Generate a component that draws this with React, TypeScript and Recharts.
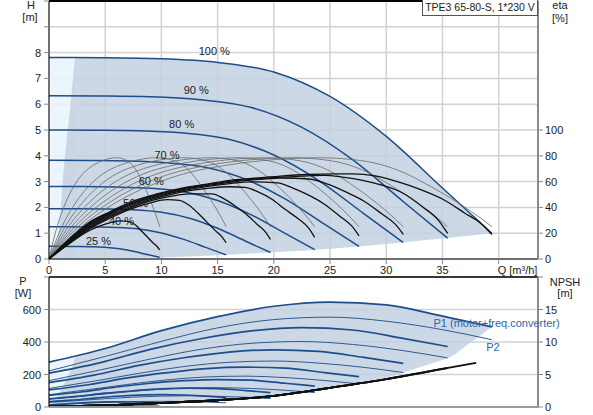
import React from 'react';
import { ComposedChart, Line, Area, Scatter, XAxis, YAxis, CartesianGrid, ReferenceLine } from 'recharts';

const FONT = '"Liberation Sans", Arial, sans-serif';
const BLUE = '#1d4d8a';
const SHADE = '#c3d1e0';
const LIGHT = '#e9f3fc';
const GRID = '#d2d2d2';
const TXT = '#222';

// speeds, top to bottom
const speedNames = ['100 %', '90 %', '80 %', '70 %', '60 %', '50 %', '40 %', '25 %'];

// Q [m3/h] points of the pump curves, one list per speed
const qPump100 = [0, 5, 10, 15, 20, 25, 30, 35, 39.4];
const qPump90 = [0, 4.5, 9, 13.5, 18, 22.5, 27, 31.5, 35.46];
const qPump80 = [0, 4, 8, 12, 16, 20, 24, 28, 31.52];
const qPump70 = [0, 3.5, 7, 10.5, 14, 17.5, 21, 24.5, 27.58];
const qPump60 = [0, 3, 6, 9, 12, 15, 18, 21, 23.64];
const qPump50 = [0, 2.5, 5, 7.5, 10, 12.5, 15, 17.5, 19.7];
const qPump40 = [0, 2, 4, 6, 8, 10, 12, 14, 15.76];
const qPump25 = [0, 1.25, 2.5, 3.75, 5, 6.25, 7.5, 8.75, 9.85];

// H [m]
const hPump100 = [7.81, 7.8, 7.76, 7.62, 7.25, 6.3, 4.75, 2.75, 1.0];
const hPump90 = [6.33, 6.32, 6.29, 6.17, 5.87, 5.1, 3.85, 2.23, 0.81];
const hPump80 = [5.0, 4.99, 4.97, 4.88, 4.64, 4.03, 3.04, 1.76, 0.64];
const hPump70 = [3.83, 3.82, 3.8, 3.73, 3.55, 3.09, 2.33, 1.35, 0.49];
const hPump60 = [2.81, 2.81, 2.79, 2.74, 2.61, 2.27, 1.71, 0.99, 0.36];
const hPump50 = [1.95, 1.95, 1.94, 1.91, 1.81, 1.58, 1.19, 0.69, 0.25];
const hPump40 = [1.25, 1.25, 1.24, 1.22, 1.16, 1.01, 0.76, 0.44, 0.16];
const hPump25 = [0.49, 0.49, 0.485, 0.476, 0.453, 0.394, 0.297, 0.172, 0.063];

// pump efficiency (thin grey), same % values at every speed
const qEtaPump100 = [0, 3, 6, 9, 12, 16, 20, 24, 28, 31, 34, 36.5, 38.5, 39.4];
const qEtaPump90 = [0, 2.7, 5.4, 8.1, 10.8, 14.4, 18, 21.6, 25.2, 27.9, 30.6, 32.85, 34.65, 35.46];
const qEtaPump80 = [0, 2.4, 4.8, 7.2, 9.6, 12.8, 16, 19.2, 22.4, 24.8, 27.2, 29.2, 30.8, 31.52];
const qEtaPump70 = [0, 2.1, 4.2, 6.3, 8.4, 11.2, 14, 16.8, 19.6, 21.7, 23.8, 25.55, 26.95, 27.58];
const qEtaPump60 = [0, 1.8, 3.6, 5.4, 7.2, 9.6, 12, 14.4, 16.8, 18.6, 20.4, 21.9, 23.1, 23.64];
const qEtaPump50 = [0, 1.5, 3, 4.5, 6, 8, 10, 12, 14, 15.5, 17, 18.25, 19.25, 19.7];
const qEtaPump40 = [0, 1.2, 2.4, 3.6, 4.8, 6.4, 8, 9.6, 11.2, 12.4, 13.6, 14.6, 15.4, 15.76];
const qEtaPump25 = [0, 0.75, 1.5, 2.25, 3, 4, 5, 6, 7, 7.75, 8.5, 9.13, 9.63, 9.85];
const etaPump = [0, 26, 44, 57, 66, 73, 77, 78.5, 76, 69, 56, 43, 31, 25];

// total efficiency (thick black)
const qEtaTot100 = [0, 1.5, 3.65, 5.5, 7.2, 9, 10.8, 12.5, 14.3, 16.1, 18, 20.6, 23, 25.5, 27, 29, 31, 33, 35, 37, 38.5, 39.4];
const etaTot100 = [0, 13, 28.8, 37, 44, 49, 53, 56, 58.5, 61, 62.5, 64.3, 65.5, 66, 66, 64.5, 60, 54, 46.5, 35.5, 27, 19];
const qEtaTot90 = [0, 1.5, 3.65, 5.5, 7.2, 9, 10.8, 12.5, 14.3, 16.1, 18, 20.6, 23, 24.5, 26.1, 27.9, 29.7, 31.5, 33.3, 34.65, 35.46];
const etaTot90 = [0, 12.8, 28, 36.4, 43.2, 48.4, 52.4, 55.4, 58, 60.2, 61.8, 63.4, 64.5, 64.8, 63.5, 61, 57, 51, 40, 30, 19.8];
const qEtaTot80 = [0, 1.5, 3.65, 5.5, 7.2, 9, 10.8, 12.5, 14.3, 16.1, 18, 20.6, 23.2, 24.8, 26.4, 28, 29.6, 30.8, 31.52];
const etaTot80 = [0, 12.5, 27.1, 35.8, 42.5, 47.7, 51.7, 54.8, 57.3, 59.5, 61.3, 62.8, 62, 58, 52, 45, 35, 27, 19];
const qEtaTot70 = [0, 1.5, 3.65, 5.5, 7.2, 9, 10.8, 12.5, 14.3, 16.1, 18, 20.3, 21.7, 23.1, 24.5, 25.9, 26.95, 27.58];
const etaTot70 = [0, 12, 26.3, 35, 41.5, 47, 51, 54, 56.5, 58.5, 59.8, 59, 55, 49.5, 42.5, 33, 25.5, 18];
const qEtaTot60 = [0, 1.5, 3.65, 5.5, 7.2, 9, 10.8, 12.5, 14.3, 16.1, 17.4, 18.6, 19.8, 21, 22.2, 23.1, 23.64];
const etaTot60 = [0, 11.5, 25.4, 34, 40.5, 46, 50, 53, 55, 56, 55.5, 52, 46.5, 38.5, 31, 24, 16.7];
const qEtaTot50 = [0, 1.5, 3.65, 5.5, 7.2, 9, 10.8, 12.5, 14.5, 15.5, 16.5, 17.5, 18.5, 19.25, 19.7];
const etaTot50 = [0, 11, 24.5, 33, 39.5, 45, 48.5, 50.5, 50.5, 47, 41.5, 35, 27, 21, 15.2];
const qEtaTot40 = [0, 1.5, 3.65, 5.5, 7.2, 9, 10.5, 11.6, 12.4, 13.2, 14, 14.8, 15.4, 15.76];
const etaTot40 = [0, 10.5, 23.7, 32, 38.5, 43.5, 46, 45.5, 42, 36, 29, 22, 17, 12.6];
const qEtaTot25 = [0, 1.5, 3.65, 5, 6.3, 7.25, 7.75, 8.25, 8.75, 9.25, 9.63, 9.85];
const etaTot25 = [0, 10, 22.4, 27, 29.5, 28.5, 26, 21.5, 17, 12.5, 9.5, 7];

// operating area (top)
const qHShade = [0, 0.4, 0.83, 1.42, 1.93, 2.4, 5, 10, 15, 20, 25, 30, 35, 39.4];
const hShadeHigh = [0, 0.3, 1, 4, 6, 7.81, 7.8, 7.76, 7.62, 7.25, 6.3, 4.75, 2.75, 1.0];
const hShadeLow = [0, 0, 0, 0, 0, 0, 0.02, 0.06, 0.15, 0.26, 0.4, 0.58, 0.79, 1.0];
const qHLight = [0, 2.4];
const hLight = [7.81, 7.81];

// power P1 (motor + freq. converter) and P2 [W], on the pump Q points
const p1_100 = [276, 360, 470, 556, 620, 646, 628, 559, 493];
const p1_90 = [208, 272, 355, 420, 468, 488, 474, 422, 372];
const p1_80 = [150, 196, 256, 303, 338, 352, 342, 305, 269];
const p1_70 = [105, 137, 179, 211, 236, 245, 239, 212, 187];
const p1_60 = [72, 94, 123, 146, 162, 169, 165, 146, 129];
const p1_50 = [50, 65, 85, 100, 112, 116, 113, 101, 89];
const p1_40 = [33, 42, 55, 66, 73, 76, 74, 66, 58];
const p1_25 = [14, 18, 23.5, 28, 31, 32, 31, 28, 25];

const p2_100 = [222, 311, 404, 487, 538, 553, 528, 476, 414];
const p2_90 = [162, 227, 295, 355, 392, 403, 385, 347, 302];
const p2_80 = [114, 159, 207, 249, 275, 283, 270, 244, 212];
const p2_70 = [76, 107, 139, 167, 185, 190, 181, 163, 142];
const p2_60 = [48, 67, 87, 105, 116, 119, 114, 103, 89];
const p2_50 = [28, 39, 51, 61, 67, 69, 66, 60, 52];
const p2_40 = [14, 20, 26, 31, 34, 35, 34, 30, 26];
const p2_25 = [3.5, 4.9, 6.3, 7.6, 8.4, 8.6, 8.2, 7.4, 6.5];

// NPSH [m]
const qNpsh100 = [0, 5, 10, 15, 20, 22.5, 25, 30, 35, 38];
const npsh100 = [0.05, 0.26, 0.62, 1.04, 1.7, 2.3, 2.95, 4.3, 5.85, 6.8];
const qNpsh90 = [0, 5, 10, 15, 20, 22.5, 25, 30, 35.46];
const npsh90 = [0.05, 0.26, 0.62, 1.04, 1.7, 2.3, 2.95, 4.3, 6.0];
const qNpsh80 = [0, 5, 10, 15, 20, 22.5, 25, 30, 31.52];
const npsh80 = [0.05, 0.26, 0.62, 1.04, 1.7, 2.3, 2.95, 4.3, 4.75];
const qNpsh70 = [0, 5, 10, 15, 20, 22.5, 25, 27.58];
const npsh70 = [0.05, 0.26, 0.62, 1.04, 1.7, 2.3, 2.95, 3.65];
const qNpsh60 = [0, 5, 10, 15, 20, 22.5, 23.64];
const npsh60 = [0.05, 0.26, 0.62, 1.04, 1.7, 2.3, 2.6];
const qNpsh50 = [0, 5, 10, 15, 19.7];
const npsh50 = [0.05, 0.26, 0.62, 1.04, 1.66];
const qNpsh40 = [0, 5, 10, 15, 15.76];
const npsh40 = [0.05, 0.26, 0.62, 1.04, 1.12];
const qNpsh25 = [0, 5, 9.85];
const npsh25 = [0.05, 0.26, 0.61];

// operating area (bottom)
const qPShade = [0, 0.6, 1.4, 2, 2.4, 5, 10, 15, 20, 23.64, 25, 27.58, 30, 31.52, 35, 35.46, 37.5, 39.4];
const pShadeHigh = [0, 50, 150, 240, 310, 360, 470, 556, 620, 640, 646, 644, 628, 615, 559, 553, 525, 493];
const pShadeLow = [0, 0, 1, 1, 2, 5, 18, 40, 68, 100, 112, 148, 180, 212, 290, 300, 397, 493];
const qPLight = [0, 2.4];
const pLight = [276, 312];

// ticks
const qTicks = [0, 5, 10, 15, 20, 25, 30, 35, 40];
const hTicks = [0, 1, 2, 3, 4, 5, 6, 7, 8, 9, 10];
const etaTicks = [0, 20, 40, 60, 80, 100];
const pTicks = [0, 200, 400, 600, 800];
const npshTicks = [0, 5, 10, 15, 20];

// curve label anchors (Q, H)
const speedLabelQ = [14.7, 13.1, 11.8, 10.5, 9.1, 7.7, 6.45, 4.4];
const speedLabelH = [8.06, 6.56, 5.22, 4.05, 3.03, 2.16, 1.49, 0.71];

const pts = (xs: number[], ys: number[]) => xs.map((x, i) => ({ x, y: ys[i] }));
const band = (xs: number[], lo: number[], hi: number[]) => xs.map((x, i) => ({ x, y: [lo[i], hi[i]] }));

const qPump = [qPump100, qPump90, qPump80, qPump70, qPump60, qPump50, qPump40, qPump25];
const hPump = [hPump100, hPump90, hPump80, hPump70, hPump60, hPump50, hPump40, hPump25];
const qEtaPump = [qEtaPump100, qEtaPump90, qEtaPump80, qEtaPump70, qEtaPump60, qEtaPump50, qEtaPump40, qEtaPump25];
const qEtaTot = [qEtaTot100, qEtaTot90, qEtaTot80, qEtaTot70, qEtaTot60, qEtaTot50, qEtaTot40, qEtaTot25];
const etaTot = [etaTot100, etaTot90, etaTot80, etaTot70, etaTot60, etaTot50, etaTot40, etaTot25];
const p1 = [p1_100, p1_90, p1_80, p1_70, p1_60, p1_50, p1_40, p1_25];
const p2 = [p2_100, p2_90, p2_80, p2_70, p2_60, p2_50, p2_40, p2_25];
const qNpsh = [qNpsh100, qNpsh90, qNpsh80, qNpsh70, qNpsh60, qNpsh50, qNpsh40, qNpsh25];
const npsh = [npsh100, npsh90, npsh80, npsh70, npsh60, npsh50, npsh40, npsh25];

const speedLabels = speedNames.map((label, i) => ({ x: speedLabelQ[i], y: speedLabelH[i], label }));
const pLabels = [
  { x: 34.2, y: 520, label: 'P1 (motor+freq.converter)' },
  { x: 38.9, y: 369, label: 'P2' },
];

const sideTick = (anchor: 'start' | 'end', hide: number[]) => (props: any) => {
  const { x, y, payload } = props;
  if (hide.includes(payload.value)) return <g />;
  return (
    <text x={x} y={y + 4} textAnchor={anchor} fontSize={11} fill={TXT}>
      {payload.value}
    </text>
  );
};

const QTick = (props: any) => {
  const { x, y, payload } = props;
  const last = payload.value === 40;
  return (
    <text x={last ? x - 1 : x} y={y + 9} textAnchor={last ? 'start' : 'middle'} fontSize={11} fill={TXT}>
      {last ? 'Q [m³/h]' : payload.value}
    </text>
  );
};

const Caption = ({ cx, cy, text }: { cx: number; cy: number; text: string }) => (
  <div style={{ position: 'absolute', left: cx - 25, top: cy - 7, width: 50, textAlign: 'center', fontSize: 11, lineHeight: '14px', color: TXT }}>
    {text}
  </div>
);

export default function App() {
  return (
    <div style={{ position: 'absolute', left: 0, top: 0, width: 593, height: 415, background: '#fff', fontFamily: FONT, overflow: 'hidden' }}>
      <div style={{ position: 'absolute', left: 0, top: 0 }}>
        <ComposedChart width={593} height={280} margin={{ top: 1, right: 0, bottom: 0, left: 0 }}>
          <CartesianGrid yAxisId="h" stroke={GRID} strokeWidth={1.5} />
          <XAxis dataKey="x" type="number" domain={[0, 43.5]} ticks={qTicks} interval={0}
            height={21} axisLine={{ stroke: '#000' }} tickLine={{ stroke: '#888' }} tickSize={5} tickMargin={1} tick={<QTick />} />
          <YAxis yAxisId="h" type="number" domain={[0, 10]} ticks={hTicks} width={49} interval={0}
            axisLine={{ stroke: '#000' }} tickLine={{ stroke: '#888' }} tickSize={5} tickMargin={3} tick={sideTick('end', [9, 10])} />
          <YAxis yAxisId="eta" orientation="right" type="number" domain={[0, 200]} ticks={etaTicks} width={55} interval={0}
            axisLine={{ stroke: '#8a8a8a', strokeWidth: 2 }} tickLine={{ stroke: '#888' }} tickSize={5} tickMargin={2} tick={sideTick('start', [])} />
          <ReferenceLine yAxisId="h" y={10} stroke="#000" strokeWidth={2} />

          <Area yAxisId="h" data={pts(qHLight, hLight)} dataKey="y" type="linear" stroke="none" fill={LIGHT} fillOpacity={0.85} isAnimationActive={false} />
          <Area yAxisId="h" data={band(qHShade, hShadeLow, hShadeHigh)} dataKey="y" type="monotone" stroke="none" fill={SHADE} fillOpacity={0.85} isAnimationActive={false} />

          {qPump.map((q, i) => (
            <Line key={`h${i}`} yAxisId="h" data={pts(q, hPump[i])} dataKey="y" type="monotone" stroke={BLUE} strokeWidth={1.5} dot={false} activeDot={false} isAnimationActive={false} />
          ))}

          <Scatter yAxisId="h" data={speedLabels} dataKey="y" isAnimationActive={false}
            shape={(p: any) => (
              <text x={p.cx} y={p.cy + 4} textAnchor="middle" fontSize={11} fill={TXT}>{p.payload.label}</text>
            )} />

          {qEtaPump.map((q, i) => (
            <Line key={`ep${i}`} yAxisId="eta" data={pts(q, etaPump)} dataKey="y" type="monotone" stroke="#6a6a6a" strokeWidth={0.8} dot={false} activeDot={false} isAnimationActive={false} />
          ))}
          {qEtaTot.map((q, i) => (
            <Line key={`et${i}`} yAxisId="eta" data={pts(q, etaTot[i])} dataKey="y" type="monotone" stroke="#111" strokeWidth={1.3} dot={false} activeDot={false} isAnimationActive={false} />
          ))}
        </ComposedChart>
      </div>

      <div style={{ position: 'absolute', left: 0, top: 265 }}>
        <ComposedChart width={593} height={150} margin={{ top: 12, right: 0, bottom: 0, left: 0 }}>
          <CartesianGrid yAxisId="p" stroke={GRID} strokeWidth={1.5} />
          <XAxis dataKey="x" type="number" domain={[0, 43.5]} ticks={qTicks} interval={0}
            height={8} axisLine={{ stroke: '#999', strokeWidth: 2 }} tickLine={false} tick={false} />
          <YAxis yAxisId="p" type="number" domain={[0, 800]} ticks={pTicks} width={49} interval={0}
            axisLine={{ stroke: '#000' }} tickLine={{ stroke: '#888' }} tickSize={5} tickMargin={3} tick={sideTick('end', [800])} />
          <YAxis yAxisId="npsh" orientation="right" type="number" domain={[0, 20]} ticks={npshTicks} width={55} interval={0}
            axisLine={{ stroke: '#8a8a8a', strokeWidth: 2 }} tickLine={{ stroke: '#888' }} tickSize={5} tickMargin={2} tick={sideTick('start', [20])} />
          <ReferenceLine yAxisId="p" y={800} stroke="#000" strokeWidth={1.5} />

          <Area yAxisId="p" data={pts(qPLight, pLight)} dataKey="y" type="linear" stroke="none" fill={LIGHT} fillOpacity={0.85} isAnimationActive={false} />
          <Area yAxisId="p" data={band(qPShade, pShadeLow, pShadeHigh)} dataKey="y" type="monotone" stroke="none" fill={SHADE} fillOpacity={0.85} isAnimationActive={false} />

          {qPump.map((q, i) => (
            <Line key={`p2${i}`} yAxisId="p" data={pts(q, p2[i])} dataKey="y" type="monotone" stroke="#2d5a93" strokeWidth={1} dot={false} activeDot={false} isAnimationActive={false} />
          ))}
          {qPump.map((q, i) => (
            <Line key={`p1${i}`} yAxisId="p" data={pts(q, p1[i])} dataKey="y" type="monotone" stroke={BLUE} strokeWidth={1.7} dot={false} activeDot={false} isAnimationActive={false} />
          ))}
          {qNpsh.map((q, i) => (
            <Line key={`n${i}`} yAxisId="npsh" data={pts(q, npsh[i])} dataKey="y" type="monotone" stroke="#111" strokeWidth={1.8} dot={false} activeDot={false} isAnimationActive={false} />
          ))}

          <Scatter yAxisId="p" data={pLabels} dataKey="y" isAnimationActive={false}
            shape={(p: any) => (
              <text x={p.cx} y={p.cy + 4} textAnchor="start" fontSize={11} fill="#2e67a8">{p.payload.label}</text>
            )} />
        </ComposedChart>
      </div>

      <Caption cx={31} cy={5} text="H" />
      <Caption cx={30} cy={17} text="[m]" />
      <Caption cx={560} cy={5} text="eta" />
      <Caption cx={560} cy={18} text="[%]" />
      <Caption cx={23} cy={281} text="P" />
      <Caption cx={23} cy={293} text="[W]" />
      <Caption cx={565} cy={282} text="NPSH" />
      <Caption cx={565} cy={293} text="[m]" />

      <div style={{ position: 'absolute', left: 422, top: 0, width: 114, height: 15, border: '1px solid #555', borderTop: 'none', background: '#fff', fontSize: 10.5, lineHeight: '15px', textAlign: 'center', color: TXT, whiteSpace: 'nowrap', overflow: 'hidden' }}>
        TPE3 65-80-S, 1*230 V
      </div>
    </div>
  );
}
